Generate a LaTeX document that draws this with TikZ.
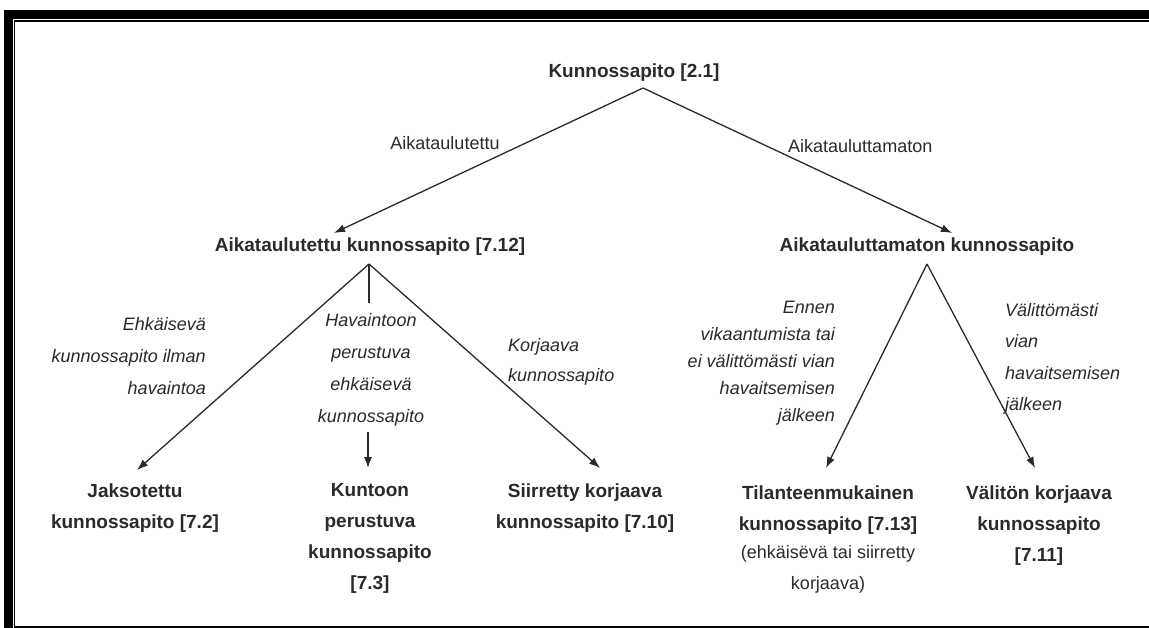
\documentclass[tikz,border=0pt]{standalone}
\usepackage{fontspec}
\setmainfont{Liberation Sans}
\usetikzlibrary{arrows.meta}
\definecolor{ink}{HTML}{2A2A2A}
\begin{document}
\begin{tikzpicture}[x=1pt,y=-1pt,
  box/.style={font=\fontsize{19}{31}\selectfont\bfseries, text=ink, inner sep=0pt, align=center},
  lab/.style={font=\fontsize{18}{28}\selectfont, text=ink, inner sep=0pt},
  ital/.style={font=\fontsize{18}{29}\selectfont\itshape, text=ink, inner sep=0pt},
  conn/.style={draw=ink, line width=1.3pt},
  arr/.style={conn, -{Latex[length=11pt,width=8pt]}}]
\useasboundingbox (0,0) rectangle (1149,628);
\fill[white] (0,0) rectangle (1149,628);
% frame
\fill[black] (4,10) rectangle (1149,19);
\fill[black] (4,10) rectangle (13,628);
\draw[line width=1.5pt] (14.5,628) -- (14.5,21) -- (1149,21);
\draw[line width=1.7pt] (14.5,627.2) -- (1149,627.2);
% main nodes
\node[box, anchor=base] (root) at (634,78) {Kunnossapito [2.1]};
\node[box, anchor=base] (sched) at (370,252) {Aikataulutettu kunnossapito [7.12]};
\node[box, anchor=base] (unsched) at (927,252) {Aikatauluttamaton kunnossapito};
\node[box, anchor=north] (n1) at (135,484) {Jaksotettu\\kunnossapito [7.2]};
\node[box, anchor=north] (n2) at (370,483) {Kuntoon\\perustuva\\kunnossapito\\{}[7.3]};
\node[box, anchor=north] (n3) at (585,484) {Siirretty korjaava\\kunnossapito [7.10]};
\node[box, anchor=north] (n4) at (828,486) {Tilanteenmukainen\\kunnossapito [7.13]\\[-3pt]{\mdseries\fontsize{18}{28}\selectfont (ehk\"ais\"ev\"a tai siirretty}\\{\mdseries\fontsize{18}{28}\selectfont korjaava)}};
\node[box, anchor=north] (n5) at (1039,486) {V\"alit\"on korjaava\\kunnossapito\\{}[7.11]};
% edge labels
\node[lab, anchor=base] (l1) at (445,150) {Aikataulutettu};
\node[lab, anchor=base west] (l2) at (788,153) {Aikatauluttamaton};
\node[ital, anchor=north east, align=right, font=\fontsize{18}{32}\selectfont\itshape] (l3) at (206,317) {Ehk\"aisev\"a\\kunnossapito ilman\\havaintoa};
\node[ital, anchor=north, align=center, font=\fontsize{18}{32}\selectfont\itshape] (l4) at (371,313) {Havaintoon\\perustuva\\ehk\"aisev\"a\\kunnossapito};
\node[ital, anchor=north west, align=left, font=\fontsize{18}{30}\selectfont\itshape] (l5) at (508,338) {Korjaava\\kunnossapito};
\node[ital, anchor=north east, align=right, font=\fontsize{18}{27}\selectfont\itshape] (l6) at (835,301) {Ennen\\vikaantumista tai\\ei v\"alitt\"om\"asti vian\\havaitsemisen\\j\"alkeen};
\node[ital, anchor=north west, align=left, font=\fontsize{18}{31.5}\selectfont\itshape] (l7) at (1005,303) {V\"alitt\"om\"asti\\vian\\havaitsemisen\\j\"alkeen};
% coordinates
\coordinate (a0) at (643,88);
\coordinate (t1) at (334,233);
\coordinate (t2) at (952,233);
\coordinate (a1) at (369,264);
\coordinate (v1) at (369,303);
\coordinate (t3) at (137,470);
\coordinate (t5) at (600,468);
\coordinate (s1) at (368,432);
\coordinate (t4) at (368,468);
\coordinate (a2) at (927,264);
\coordinate (t6) at (826,468);
\coordinate (t7) at (1035,468);
% connectors
\draw[arr] (a0) -- (t1);
\draw[arr] (a0) -- (t2);
\draw[arr] (a1) -- (t3);
\draw[conn] (a1) -- (v1);
\draw[arr] (a1) -- (t5);
\draw[arr] (s1) -- (t4);
\draw[arr] (a2) -- (t6);
\draw[arr] (a2) -- (t7);
\end{tikzpicture}
\end{document}
